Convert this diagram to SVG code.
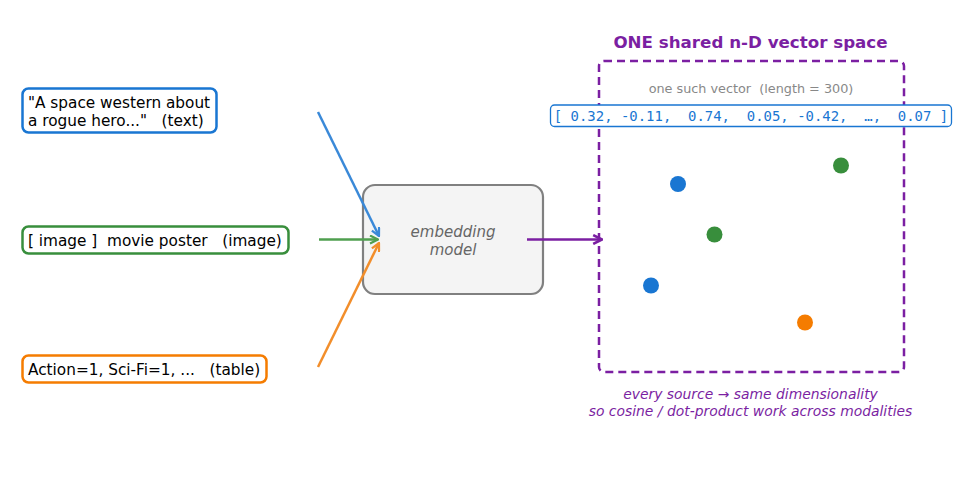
<svg xmlns="http://www.w3.org/2000/svg" width="957" height="480" viewBox="0 0 957 480">
<style>
.src{fill:#fff;stroke-width:2.5}
.lbl{font-family:"DejaVu Sans",sans-serif;font-size:15.3px;fill:#000}
.conn{fill:none;stroke-width:2.5}
</style>
<defs>
<marker id="hb" viewBox="0 0 10 10" refX="9" refY="5" markerWidth="10" markerHeight="10" markerUnits="userSpaceOnUse" orient="auto"><path d="M1,1 L9,5 L1,9" fill="none" stroke="#3a89d8" stroke-width="2.2"/></marker>
<marker id="hg" viewBox="0 0 10 10" refX="9" refY="5" markerWidth="10" markerHeight="10" markerUnits="userSpaceOnUse" orient="auto"><path d="M1,1 L9,5 L1,9" fill="none" stroke="#4f9f4f" stroke-width="2.2"/></marker>
<marker id="ho" viewBox="0 0 10 10" refX="9" refY="5" markerWidth="10" markerHeight="10" markerUnits="userSpaceOnUse" orient="auto"><path d="M1,1 L9,5 L1,9" fill="none" stroke="#f28e2b" stroke-width="2.2"/></marker>
<marker id="hp" viewBox="0 0 10 10" refX="9" refY="5" markerWidth="11" markerHeight="11" markerUnits="userSpaceOnUse" orient="auto"><path d="M1,1 L9,5 L1,9" fill="none" stroke="#7b1fa2" stroke-width="2.4"/></marker>
</defs>
<rect width="957" height="480" fill="#fff"/>

<g id="text-source">
<rect class="src" x="22.5" y="88.5" width="194" height="44" rx="6" stroke="#1976d2"/>
<text class="lbl" x="28" y="107.5" xml:space="preserve">"A space western about</text>
<text class="lbl" x="28" y="125.5" xml:space="preserve">a rogue hero..."   (text)</text>
</g>
<g id="image-source">
<rect class="src" x="22.5" y="226.5" width="266" height="27" rx="6" stroke="#388e3c"/>
<text class="lbl" x="28" y="245.5" xml:space="preserve">[ image ]  movie poster   (image)</text>
</g>
<g id="table-source">
<rect class="src" x="22.5" y="355.5" width="244" height="27" rx="6" stroke="#f57c00"/>
<text class="lbl" x="28" y="375" xml:space="preserve">Action=1, Sci-Fi=1, ...   (table)</text>
</g>

<g id="embedding-model">
<rect x="363" y="185" width="180" height="109" rx="12" fill="#f4f4f4" stroke="#808080" stroke-width="2.2"/>
<text x="453" y="236.5" text-anchor="middle" font-family="DejaVu Sans,sans-serif" font-size="15" font-style="italic" fill="#666">embedding</text>
<text x="453" y="254.5" text-anchor="middle" font-family="DejaVu Sans,sans-serif" font-size="15" font-style="italic" fill="#666">model</text>
</g>

<g id="vector-space">
<text x="750.5" y="47.5" text-anchor="middle" font-family="DejaVu Sans,sans-serif" font-size="16.7" font-weight="bold" fill="#7b1fa2">ONE shared n-D vector space</text>
<rect x="599" y="61" width="305" height="311" rx="5" fill="none" stroke="#7b1fa2" stroke-width="2.5" stroke-dasharray="8,5"/>
<text x="751" y="93" text-anchor="middle" font-family="DejaVu Sans,sans-serif" font-size="12.8" fill="#888" xml:space="preserve">one such vector  (length = 300)</text>
<rect x="550.5" y="105" width="401" height="21.5" rx="4" fill="#fff" stroke="#1976d2" stroke-width="1.3"/>
<text x="751" y="121" text-anchor="middle" font-family="DejaVu Sans Mono,monospace" font-size="13.95" fill="#1976d2" xml:space="preserve">[ 0.32, -0.11,  0.74,  0.05, -0.42,  …,  0.07 ]</text>
<circle cx="678" cy="184" r="8" fill="#1976d2"/>
<circle cx="841" cy="165.5" r="8" fill="#388e3c"/>
<circle cx="714.5" cy="234.5" r="8" fill="#388e3c"/>
<circle cx="651" cy="285.5" r="8" fill="#1976d2"/>
<circle cx="805" cy="322.5" r="8" fill="#f57c00"/>
<text x="750.5" y="399" text-anchor="middle" font-family="DejaVu Sans,sans-serif" font-size="13.9" font-style="italic" fill="#7b1fa2">every source → same dimensionality</text>
<text x="750.5" y="416" text-anchor="middle" font-family="DejaVu Sans,sans-serif" font-size="13.9" font-style="italic" fill="#7b1fa2">so cosine / dot-product work across modalities</text>
</g>

<g id="connectors">
<line class="conn" x1="318" y1="112" x2="379" y2="236" stroke="#3a89d8" marker-end="url(#hb)"/>
<line class="conn" x1="319" y1="239.5" x2="378" y2="239.5" stroke="#4f9f4f" marker-end="url(#hg)"/>
<line class="conn" x1="318" y1="367" x2="379" y2="243" stroke="#f28e2b" marker-end="url(#ho)"/>
<line class="conn" x1="527" y1="239.5" x2="602" y2="239.5" stroke="#7b1fa2" stroke-width="3" marker-end="url(#hp)"/>
</g>
</svg>
